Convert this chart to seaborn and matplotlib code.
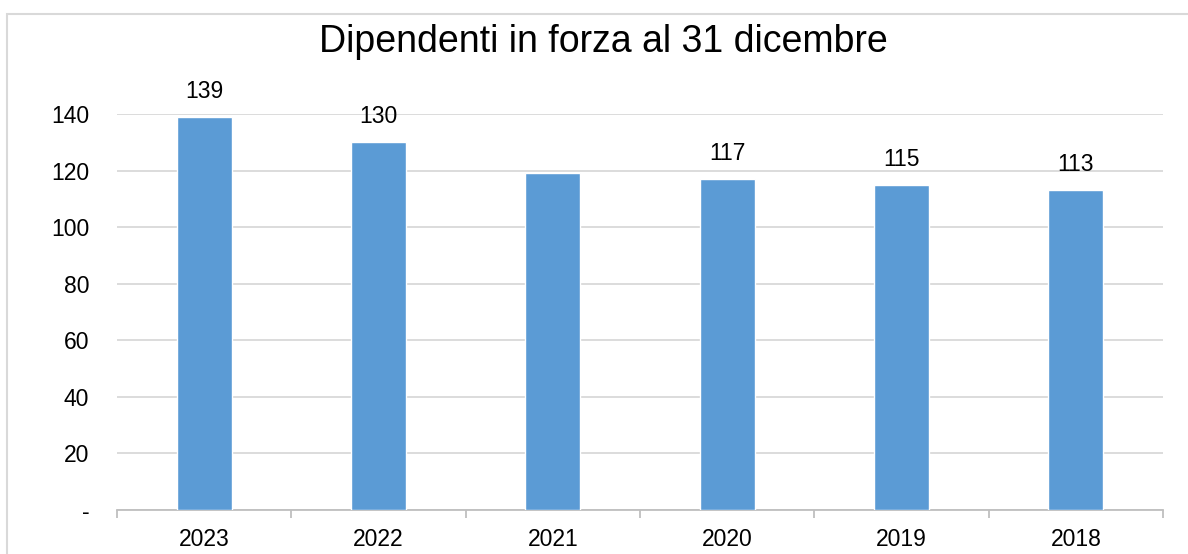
import numpy as np
import pandas as pd
import matplotlib
matplotlib.use("Agg")
import matplotlib.pyplot as plt
import seaborn as sns
from matplotlib.patches import Rectangle

# data
anni = ["2023", "2022", "2021", "2020", "2019", "2018"]
dipendenti = [139, 130, 119, 117, 115, 113]
etichette = ["139", "130", "", "117", "115", "113"]  # 2021 has no label in the original
y_ticks = [0, 20, 40, 60, 80, 100, 120, 140]
y_labels = ["-", "20", "40", "60", "80", "100", "120", "140"]

sns.set_theme(style="white")
plt.rcParams["font.family"] = ["Liberation Sans", "DejaVu Sans"]

df = pd.DataFrame({"Anno": anni, "Dipendenti": dipendenti})

fig = plt.figure(figsize=(11.88, 5.54), dpi=100)
ax = fig.add_axes([117/1188, 1 - 510/554, (1163 - 117)/1188, (510 - 114)/554])

# outer chart border
fig.patches.append(Rectangle((7/1188, -0.05), 1.2, 1 - 14/554 + 0.05,
                             transform=fig.transFigure, fill=False,
                             edgecolor="#d9d9d9", linewidth=1.5))

sns.barplot(data=df, x="Anno", y="Dipendenti", color="#5b9bd5", width=0.316,
            saturation=1, ax=ax, zorder=3)

ax.set_ylim(0, 140)
ax.set_xlim(-0.5, 5.5)
ax.set_yticks(y_ticks)
ax.set_yticklabels(y_labels)
ax.yaxis.grid(True, color="#d9d9d9", linewidth=1.3, zorder=0)
ax.xaxis.grid(False)
for s in ["top", "right", "left"]:
    ax.spines[s].set_visible(False)
ax.spines["bottom"].set_color("#bfbfbf")
ax.spines["bottom"].set_linewidth(1.3)

ax.set_xticks(np.arange(-0.5, 6, 1), minor=True)
ax.tick_params(axis="x", which="minor", length=6, width=1.3, color="#bfbfbf", direction="out", bottom=True)
ax.tick_params(axis="x", which="major", length=0, pad=13, labelsize=16.5, labelcolor="black")
ax.tick_params(axis="y", length=0, pad=20, labelsize=16.5, labelcolor="black")
ax.set_xlabel("")
ax.set_ylabel("")

for c in ax.containers:
    ax.bar_label(c, labels=etichette, padding=10, fontsize=16.5, color="black")

fig.text(603/1188, 1 - 42/554, "Dipendenti in forza al 31 dicembre",
         ha="center", va="center", fontsize=27, color="black")

fig.savefig("out.png", dpi=100)
